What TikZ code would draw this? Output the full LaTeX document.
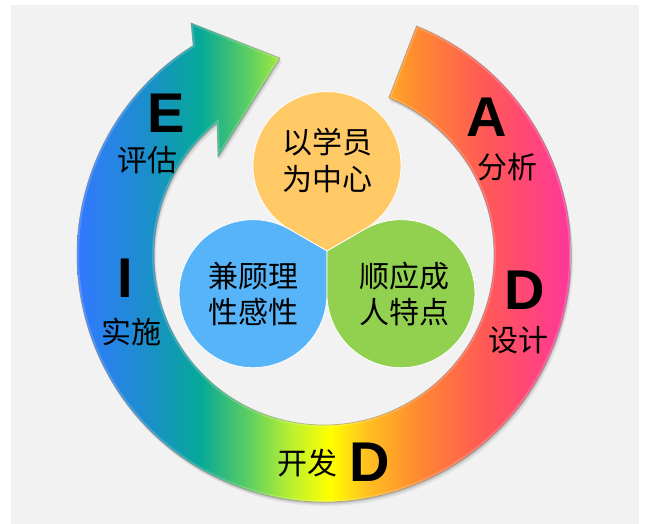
\documentclass[tikz,border=0pt]{standalone}
\usepackage{fontspec}
\setmainfont{Liberation Sans}
\newfontfamily\cjk{Noto Sans CJK SC}
\usetikzlibrary{calc}
\definecolor{bgc}{RGB}{242,242,242}
\definecolor{orng}{RGB}{255,201,102}
\definecolor{blu}{RGB}{88,180,248}
\definecolor{grn}{RGB}{146,208,80}
\definecolor{r0}{RGB}{50,120,255}
\definecolor{r1}{RGB}{26,144,200}
\definecolor{r2}{RGB}{6,168,152}
\definecolor{r3}{RGB}{96,208,96}
\definecolor{r4}{RGB}{184,240,48}
\definecolor{r5}{RGB}{255,255,0}
\definecolor{r6}{RGB}{255,192,32}
\definecolor{r7}{RGB}{255,138,48}
\definecolor{r8}{RGB}{255,90,85}
\definecolor{r9}{RGB}{255,74,112}
\definecolor{r10}{RGB}{255,55,155}
\pgfdeclarehorizontalshading{rainbow}{100bp}{color(0bp)=(r0); color(25bp)=(r0); color(32.4bp)=(r1); color(37.47bp)=(r2); color(42.55bp)=(r3); color(46.6bp)=(r4); color(50.66bp)=(r5); color(54.41bp)=(r6); color(59.48bp)=(r7); color(66.18bp)=(r8); color(69.93bp)=(r9); color(75bp)=(r10); color(100bp)=(r10)}
\newcommand\ringshape[1]{\path[#1] (416.53pt,498.01pt) arc[start angle=68,end angle=-238,radius=247pt] -- (191pt,501pt) -- (280pt,466pt) -- (218pt,367pt) -- (217.02pt,401.12pt) arc[start angle=-231,end angle=67.6,radius=170pt] -- cycle;}
\tikzset{
  letter/.style={font=\fontsize{56}{56}\selectfont\bfseries, anchor=base, inner sep=0pt, text=black},
  cjklab/.style={font=\cjk\fontsize{30}{30}\selectfont, anchor=base, inner sep=0pt, text=black},
  drop/.style={draw=white, line width=0.8pt}
}
\begin{document}
\begin{tikzpicture}[x=1pt,y=1pt]
\useasboundingbox (0,0) rectangle (645,524);
\fill[white] (0,0) rectangle (645,524);
\fill[bgc] (11,0) rectangle (639,519);
% shadow of ring
\ringshape{fill=black, opacity=0.06, shift={(2pt,-4pt)}}
\ringshape{fill=black, opacity=0.08, shift={(1pt,-2.5pt)}}
\ringshape{fill=black, opacity=0.10, shift={(0.5pt,-1.2pt)}}
% ring with gradient
\begin{scope}
\ringshape{clip}
\shade[shading=rainbow] (77,0) rectangle (570,524);
\ringshape{draw=white, line width=4pt, opacity=0.18}
\end{scope}
\ringshape{draw=black!50, line width=0.7pt, opacity=0.55}
% teardrops
\coordinate (T) at (327,273);
\path[fill=orng, drop] (T) -- (364,294.3) arc[start angle=-60,end angle=240,radius=74pt] -- cycle;
\path[fill=blu, drop] (T) -- (290.04,294.39) arc[start angle=60,end angle=360,radius=74pt] -- cycle;
\path[fill=grn, drop] (T) -- (326.96,230.3) arc[start angle=180,end angle=480,radius=74pt] -- cycle;
% teardrop texts
\node[cjklab] (o1) at (327,370) {以学员};
\node[cjklab] (o2) at (327,333) {为中心};
\node[cjklab] (b1) at (253.5,236) {兼顾理};
\node[cjklab] (b2) at (253.5,200) {性感性};
\node[cjklab] (g1) at (404,236) {顺应成};
\node[cjklab] (g2) at (404,200) {人特点};
% ring labels
\node[letter] (E) at (166,391) {E};
\node[cjklab] (pg) at (147,352.6) {评估};
\node[letter] (A) at (486.5,387) {A};
\node[cjklab] (fx) at (507,345.6) {分析};
\node[letter] (I) at (125,226) {I};
\node[cjklab] (ss) at (131,180.6) {实施};
\node[letter] (D1) at (525,214) {D};
\node[cjklab] (sj) at (518,172.6) {设计};
\node[letter] (D2) at (370,42) {D};
\node[cjklab] (kf) at (307,49.6) {开发};
\end{tikzpicture}
\end{document}
